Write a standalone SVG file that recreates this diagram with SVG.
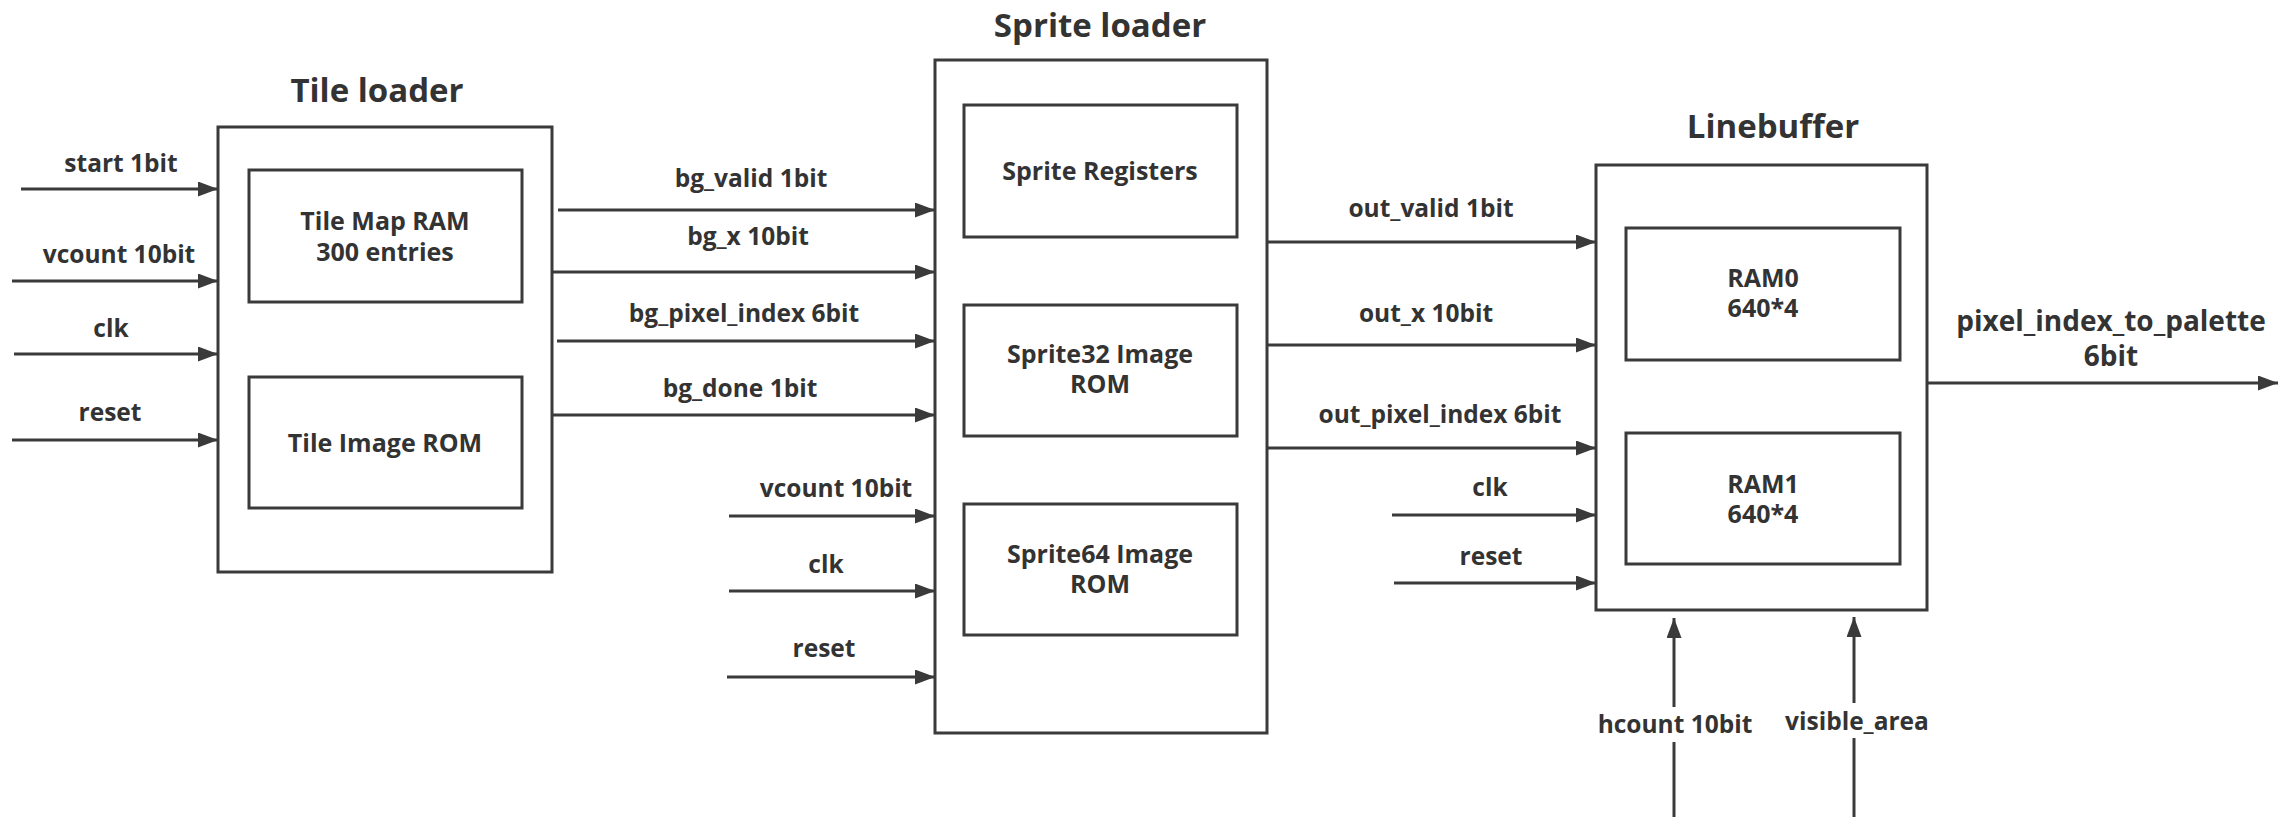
<svg xmlns="http://www.w3.org/2000/svg" width="2284" height="817" viewBox="0 0 2284 817">
<style>
.box{fill:none;stroke:#3a3a3a;stroke-width:3}
.ln{fill:none;stroke:#3a3a3a;stroke-width:3}
.t{font-family:"Open Sans","Noto Sans","Liberation Sans",sans-serif;font-weight:700;fill:#333;text-anchor:middle}
.title{font-size:33px}
.in{font-size:25px}
.lb{font-size:24.5px}
.out{font-size:28px}
</style>
<defs>
<marker id="ah" markerUnits="userSpaceOnUse" markerWidth="22" markerHeight="16" refX="20" refY="7.5" orient="auto">
<path d="M0,0 L20,7.5 L0,15 z" fill="#3a3a3a"/>
</marker>
</defs>
<rect width="2284" height="817" fill="#fff"/>

<g id="tile_loader">
<text class="t title" x="377" y="102">Tile loader</text>
<rect class="box" x="218" y="127" width="334" height="445"/>
<g id="tile_map_ram">
<rect class="box" x="249" y="170" width="273" height="132"/>
<text class="t in" x="385" y="230">Tile Map RAM</text>
<text class="t in" x="385" y="261">300 entries</text>
</g>
<g id="tile_image_rom">
<rect class="box" x="249" y="377" width="273" height="131"/>
<text class="t in" x="385" y="452">Tile Image ROM</text>
</g>
</g>

<g id="sprite_loader">
<text class="t title" x="1100" y="37">Sprite loader</text>
<rect class="box" x="935" y="60" width="332" height="673"/>
<g id="sprite_registers">
<rect class="box" x="964" y="105" width="273" height="132"/>
<text class="t in" x="1100" y="180">Sprite Registers</text>
</g>
<g id="sprite32_rom">
<rect class="box" x="964" y="305" width="273" height="131"/>
<text class="t in" x="1100" y="363">Sprite32 Image</text>
<text class="t in" x="1100" y="393">ROM</text>
</g>
<g id="sprite64_rom">
<rect class="box" x="964" y="504" width="273" height="131"/>
<text class="t in" x="1100" y="563">Sprite64 Image</text>
<text class="t in" x="1100" y="593">ROM</text>
</g>
</g>

<g id="linebuffer">
<text class="t title" x="1773" y="138">Linebuffer</text>
<rect class="box" x="1596" y="165" width="331" height="445"/>
<g id="ram0">
<rect class="box" x="1626" y="228" width="274" height="132"/>
<text class="t in" x="1763" y="287">RAM0</text>
<text class="t in" x="1763" y="317">640*4</text>
</g>
<g id="ram1">
<rect class="box" x="1626" y="433" width="274" height="131"/>
<text class="t in" x="1763" y="493">RAM1</text>
<text class="t in" x="1763" y="523">640*4</text>
</g>
</g>

<g id="connectors">
<line class="ln" x1="21" y1="189" x2="218" y2="189" marker-end="url(#ah)"/>
<line class="ln" x1="12" y1="281" x2="218" y2="281" marker-end="url(#ah)"/>
<line class="ln" x1="14" y1="354" x2="218" y2="354" marker-end="url(#ah)"/>
<line class="ln" x1="12" y1="440" x2="218" y2="440" marker-end="url(#ah)"/>

<line class="ln" x1="558" y1="210" x2="935" y2="210" marker-end="url(#ah)"/>
<line class="ln" x1="552" y1="272" x2="935" y2="272" marker-end="url(#ah)"/>
<line class="ln" x1="557" y1="341" x2="935" y2="341" marker-end="url(#ah)"/>
<line class="ln" x1="552" y1="415" x2="935" y2="415" marker-end="url(#ah)"/>

<line class="ln" x1="729" y1="516" x2="935" y2="516" marker-end="url(#ah)"/>
<line class="ln" x1="729" y1="591" x2="935" y2="591" marker-end="url(#ah)"/>
<line class="ln" x1="727" y1="677" x2="935" y2="677" marker-end="url(#ah)"/>

<line class="ln" x1="1267" y1="242" x2="1596" y2="242" marker-end="url(#ah)"/>
<line class="ln" x1="1267" y1="345" x2="1596" y2="345" marker-end="url(#ah)"/>
<line class="ln" x1="1267" y1="448" x2="1596" y2="448" marker-end="url(#ah)"/>
<line class="ln" x1="1392" y1="515" x2="1596" y2="515" marker-end="url(#ah)"/>
<line class="ln" x1="1394" y1="583" x2="1596" y2="583" marker-end="url(#ah)"/>

<line class="ln" x1="1927" y1="383" x2="2278" y2="383" marker-end="url(#ah)"/>

<line class="ln" x1="1674" y1="817" x2="1674" y2="742"/>
<line class="ln" x1="1674" y1="707" x2="1674" y2="618" marker-end="url(#ah)"/>
<line class="ln" x1="1854" y1="817" x2="1854" y2="738"/>
<line class="ln" x1="1854" y1="703" x2="1854" y2="617" marker-end="url(#ah)"/>

<text class="t lb" x="121" y="172">start 1bit</text>
<text class="t lb" x="119" y="263">vcount 10bit</text>
<text class="t lb" x="111" y="337">clk</text>
<text class="t lb" x="110" y="421">reset</text>

<text class="t lb" x="751" y="187">bg_valid 1bit</text>
<text class="t lb" x="748" y="245">bg_x 10bit</text>
<text class="t lb" x="744" y="322">bg_pixel_index 6bit</text>
<text class="t lb" x="740" y="397">bg_done 1bit</text>

<text class="t lb" x="836" y="497">vcount 10bit</text>
<text class="t lb" x="826" y="573">clk</text>
<text class="t lb" x="824" y="657">reset</text>

<text class="t lb" x="1431" y="217">out_valid 1bit</text>
<text class="t lb" x="1426" y="322">out_x 10bit</text>
<text class="t lb" x="1440" y="423">out_pixel_index 6bit</text>
<text class="t lb" x="1490" y="496">clk</text>
<text class="t lb" x="1491" y="565">reset</text>

<text class="t out" x="2111" y="331">pixel_index_to_palette</text>
<text class="t out" x="2111" y="366">6bit</text>

<text class="t lb" x="1675" y="733">hcount 10bit</text>
<text class="t lb" x="1857" y="730">visible_area</text>
</g>
</svg>
